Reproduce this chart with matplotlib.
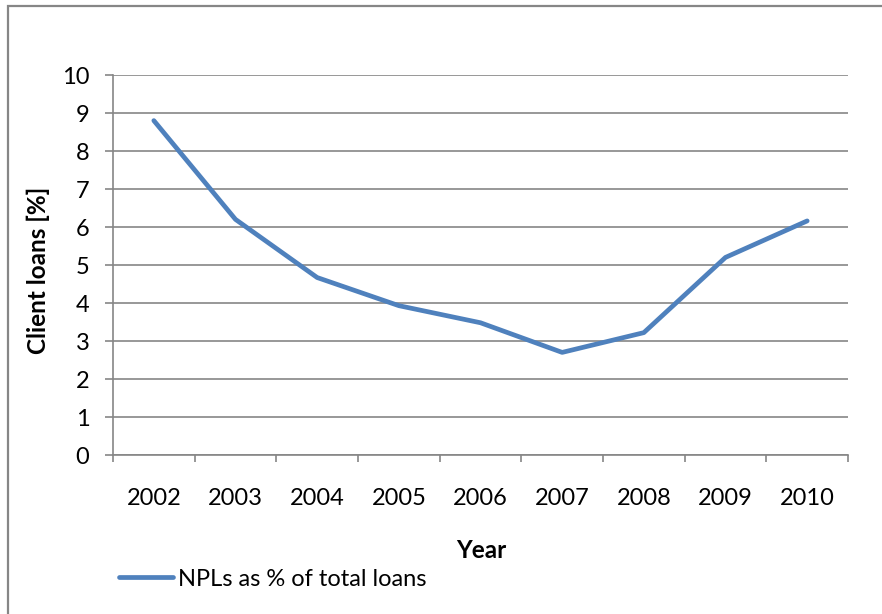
import matplotlib.pyplot as plt
import matplotlib.patches as mpatches
import numpy as np

# NPL share of client loans
years = ['2002', '2003', '2004', '2005', '2006', '2007', '2008', '2009', '2010']
npl_pct = [8.8, 6.2, 4.67, 3.93, 3.48, 2.7, 3.22, 5.2, 6.16]

GRAY = '#868686'
BLUE = '#4F81BD'
plt.rcParams['font.family'] = ['Lato', 'DejaVu Sans']

W, H = 882, 614
fig = plt.figure(figsize=(W / 100, H / 100), dpi=100)

# outer chart frame (right/bottom edges fall outside the picture)
fig.patches.append(mpatches.Rectangle((8 / W, -0.2), 1.5, 1.2 - 6 / H,
                                      transform=fig.transFigure, fill=False,
                                      edgecolor=GRAY, lw=1.6))

ax = fig.add_axes([113 / W, 1 - 455 / H, (848 - 113) / W, (455 - 75) / H])

x = np.arange(len(years))
line, = ax.plot(x, npl_pct, color=BLUE, lw=3.4, solid_capstyle='round',
                label='NPLs as % of total loans')

ax.set_xlim(-0.5, len(years) - 0.5)
ax.set_ylim(0, 10)
ax.set_yticks(range(0, 11))
ax.yaxis.grid(True, color=GRAY, lw=1.2)
ax.set_axisbelow(True)

# category boundaries get the tick marks, labels sit at the centres
ax.set_xticks(np.arange(-0.5, len(years), 1.0))
ax.set_xticklabels([])
ax.set_xticks(x, minor=True)
ax.set_xticklabels(years, minor=True)
ax.tick_params(axis='x', which='major', length=5, width=1.2, color=GRAY, direction='out')
ax.tick_params(axis='x', which='minor', length=0, pad=24, labelsize=17)
ax.tick_params(axis='y', length=6, width=1.2, color=GRAY, pad=11, labelsize=17)

for s in ('top', 'right'):
    ax.spines[s].set_visible(False)
for s in ('left', 'bottom'):
    ax.spines[s].set_color(GRAY)
    ax.spines[s].set_linewidth(1.2)

fig.text(38 / W, 1 - 270 / H, 'Client loans [%]', rotation=90, ha='center', va='center',
         fontsize=17.5, fontweight='bold')
fig.text(481 / W, 1 - 550 / H, 'Year', ha='center', va='center',
         fontsize=17.5, fontweight='bold')

fig.legend(handles=[line], loc='center left', bbox_to_anchor=(119 / W, 1 - 579 / H),
           frameon=False, fontsize=17, handlelength=2.3, handletextpad=0.2,
           borderpad=0, borderaxespad=0)

plt.savefig('out.png', dpi=100)
